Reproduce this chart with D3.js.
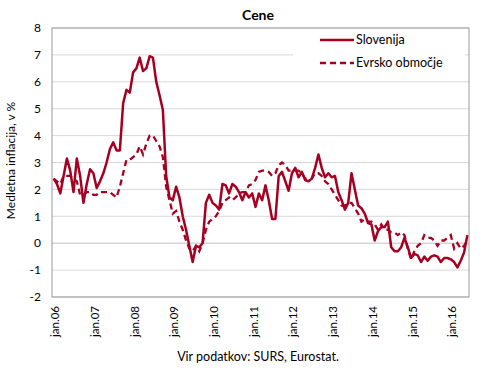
<!DOCTYPE html>
<html>
  <head>
    <meta charset="utf-8" />
    <title>Cene</title>
    <script src="https://d3js.org/d3.v7.min.js"></script>
    <style>
        body { margin:0; background:#fff; }
        text { font-family: Lato, "Open Sans", sans-serif; fill:#000; }
    </style>
  </head>
  <body>
    <svg id="viz"></svg>
    <script>
        var width = 490, height = 376;

        // yearly tick labels (each January)
        var years = ["06","07","08","09","10","11","12","13","14","15","16"];

        // Slovenia, jan.06 - jun.16
        var slovenija = [
            2.4, 2.2, 1.85, 2.5, 3.15, 2.7, 1.9, 3.15, 2.5, 1.5, 2.2, 2.75,
            2.6, 2.05, 2.3, 2.6, 3.0, 3.5, 3.75, 3.45, 3.45, 5.2, 5.7, 5.6,
            6.35, 6.5, 6.9, 6.4, 6.5, 6.95, 6.9, 6.0, 5.5, 4.95, 2.5, 1.7,
            1.6, 2.1, 1.7, 1.0, 0.5, -0.1, -0.7, -0.1, -0.15, 0.0, 1.5, 1.8,
            1.5, 1.4, 1.25, 2.2, 2.15, 1.85, 2.2, 2.1, 1.9, 1.6, 1.9, 1.7,
            1.85, 1.35, 1.85, 1.6, 2.15, 1.6, 0.9, 0.9, 2.5, 2.65, 2.3, 1.95,
            2.6, 2.8, 2.45, 2.65, 2.35, 2.3, 2.4, 2.8, 3.3, 2.8, 2.45, 2.6,
            2.45, 2.5, 1.9, 1.6, 1.25, 1.5, 2.6, 2.0, 1.4, 1.3, 1.1, 0.75,
            0.7, 0.1, 0.45, 0.6, 0.6, 0.8, -0.15, -0.3, -0.3, -0.15, 0.2, -0.15,
            -0.55, -0.4, -0.45, -0.7, -0.5, -0.65, -0.5, -0.45, -0.5, -0.7, -0.55, -0.55,
            -0.6, -0.7, -0.9, -0.65, -0.35, 0.3
        ];

        // euro area, jan.06 - jun.16
        var evro = [
            2.4, 2.3, 2.2, 2.5, 2.5, 2.5, 2.4, 2.3, 1.8, 1.8, 1.9, 1.9,
            1.8, 1.8, 1.9, 1.9, 1.9, 1.9, 1.8, 1.7, 2.1, 2.6, 3.1, 3.1,
            3.2, 3.3, 3.6, 3.3, 3.7, 4.0, 4.0, 3.8, 3.6, 3.2, 2.1, 1.6,
            1.1, 1.2, 0.8, 0.5, 0.1, -0.2, -0.3, -0.1, -0.3, 0.0, 0.5, 0.8,
            0.9, 1.0, 1.2, 1.5, 1.6, 1.7, 1.6, 1.7, 1.85, 1.9, 1.9, 2.15,
            2.2, 2.35, 2.65, 2.7, 2.7, 2.65, 2.5, 2.6, 2.9, 3.0, 2.9, 2.7,
            2.7, 2.7, 2.7, 2.6, 2.4, 2.4, 2.4, 2.6, 2.6, 2.5, 2.3, 2.2,
            2.0, 1.8, 1.6, 1.4, 1.4, 1.5, 1.5, 1.3, 1.1, 0.8, 0.9, 0.8,
            0.8, 0.7, 0.5, 0.7, 0.5, 0.5, 0.4, 0.4, 0.3, 0.4, 0.3, -0.2,
            -0.6, -0.3, -0.1, 0.0, 0.3, 0.2, 0.2, 0.1, -0.1, 0.1, 0.1, 0.2,
            0.3, -0.2, 0.0, -0.2, -0.1, 0.1
        ];

        var yTicks = [-2, -1, 0, 1, 2, 3, 4, 5, 6, 7, 8];
        var color = "#a50021";

        var svg = d3.select("#viz")
            .attr("width", width)
            .attr("height", height);

        var plotLeft = 52, plotRight = 469, plotTop = 28, plotBottom = 297;

        var x = d3.scaleBand()
            .domain(d3.range(slovenija.length))
            .range([plotLeft, plotRight]);

        var y = d3.scaleLinear()
            .domain([-2, 8])
            .range([plotBottom, plotTop]);

        // grid lines
        svg.append("g").selectAll("line")
            .data(yTicks)
            .enter().append("line")
            .attr("x1", plotLeft).attr("x2", plotRight)
            .attr("y1", function(d){ return y(d); })
            .attr("y2", function(d){ return y(d); })
            .attr("stroke", function(d){ return d === 0 ? "#bfbfbf" : "#d9d9d9"; })
            .attr("stroke-width", 1);

        // legend background hides grid under it
        svg.append("rect")
            .attr("x", 293).attr("y", plotTop + 1)
            .attr("width", 172).attr("height", 48)
            .attr("fill", "#fff");

        // plot border
        svg.append("rect")
            .attr("x", plotLeft).attr("y", plotTop)
            .attr("width", plotRight - plotLeft).attr("height", plotBottom - plotTop)
            .attr("fill", "none")
            .attr("stroke", "#9a9a9a")
            .attr("stroke-width", 1);

        // y axis labels
        svg.append("g").selectAll("text")
            .data(yTicks)
            .enter().append("text")
            .attr("x", plotLeft - 11)
            .attr("y", function(d){ return y(d); })
            .attr("dy", "0.35em")
            .attr("text-anchor", "end")
            .style("font-size", "12px")
            .text(function(d){ return d; });

        // x labels at each january
        svg.append("g").selectAll("text")
            .data(years)
            .enter().append("text")
            .attr("transform", function(d, i){
                var cx = x(i * 12) + x.bandwidth() / 2;
                return "translate(" + (cx + 5.5) + "," + (plotBottom + 9) + ") rotate(-90)";
            })
            .attr("text-anchor", "end")
            .style("font-size", "11.5px")
            .text(function(d){ return "jan." + d; });

        var line = d3.line()
            .x(function(d, i){ return x(i) + x.bandwidth() / 2; })
            .y(function(d){ return y(d); });

        svg.append("path")
            .datum(evro)
            .attr("d", line)
            .attr("fill", "none")
            .attr("stroke", color)
            .attr("stroke-width", 2.3)
            .attr("stroke-dasharray", "6,4");

        svg.append("path")
            .datum(slovenija)
            .attr("d", line)
            .attr("fill", "none")
            .attr("stroke", color)
            .attr("stroke-width", 2.5)
            .attr("stroke-linejoin", "round");

        // legend
        var legend = [
            {name: "Slovenija", dash: null, yy: 40},
            {name: "Evrsko območje", dash: "6,4", yy: 63}
        ];
        var lg = svg.append("g");
        lg.selectAll("line")
            .data(legend)
            .enter().append("line")
            .attr("x1", 320).attr("x2", 354)
            .attr("y1", function(d){ return d.yy; })
            .attr("y2", function(d){ return d.yy; })
            .attr("stroke", color)
            .attr("stroke-width", 2.5)
            .attr("stroke-dasharray", function(d){ return d.dash; });
        lg.selectAll("text")
            .data(legend)
            .enter().append("text")
            .attr("x", 356)
            .attr("y", function(d){ return d.yy; })
            .attr("dy", "0.35em")
            .style("font-size", "12.5px")
            .text(function(d){ return d.name; });

        // titles
        svg.append("text")
            .attr("x", 258).attr("y", 20)
            .attr("text-anchor", "middle")
            .style("font-size", "14px")
            .style("font-weight", "bold")
            .text("Cene");

        svg.append("text")
            .attr("transform", "translate(15," + ((plotTop + plotBottom) / 2 - 2) + ") rotate(-90)")
            .attr("text-anchor", "middle")
            .style("font-size", "12px")
            .text("Medletna inflacija, v %");

        svg.append("text")
            .attr("x", 258).attr("y", 361)
            .attr("text-anchor", "middle")
            .style("font-size", "12.5px")
            .text("Vir podatkov: SURS, Eurostat.");
    </script>
  </body>
</html>
